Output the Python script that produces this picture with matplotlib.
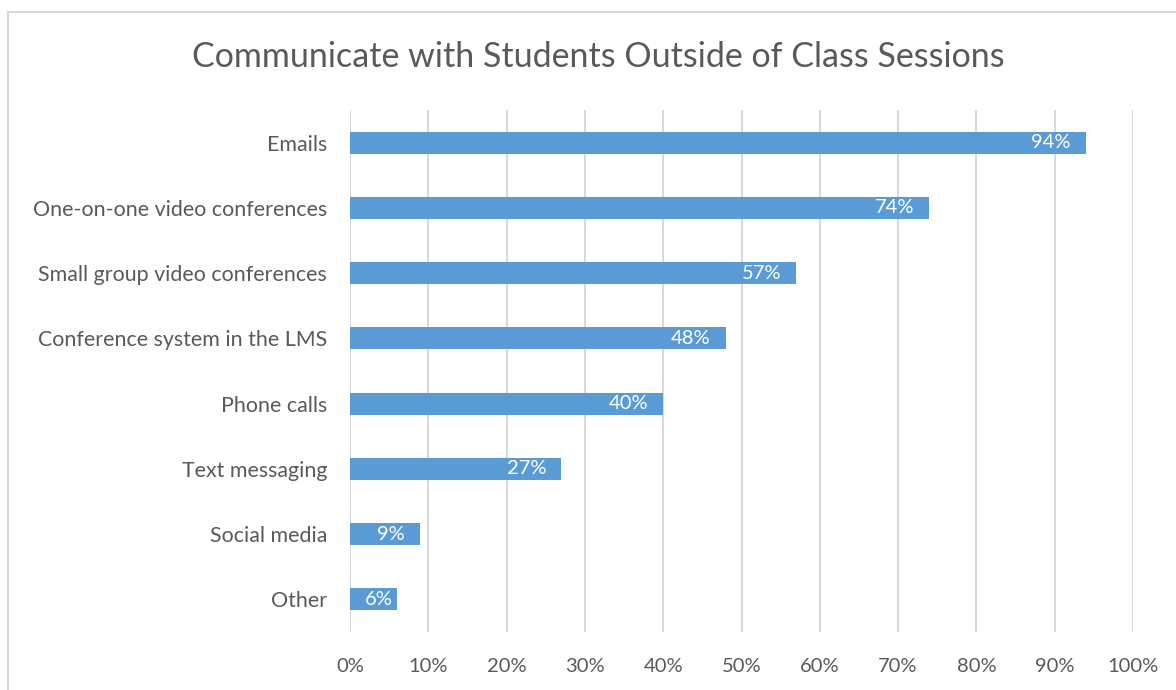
import matplotlib
matplotlib.use("Agg")
import matplotlib.pyplot as plt
from matplotlib.patches import Rectangle
from matplotlib.ticker import FuncFormatter, MultipleLocator

categories = ["Emails", "One-on-one video conferences", "Small group video conferences",
              "Conference system in the LMS", "Phone calls", "Text messaging",
              "Social media", "Other"]
values = [94, 74, 57, 48, 40, 27, 9, 6]
title = "Communicate with Students Outside of Class Sessions"

plt.rcParams['font.family'] = ['Lato', 'DejaVu Sans']
TXT = "#595959"
BAR = "#5B9BD5"
GRID = "#D9D9D9"

fig = plt.figure(figsize=(11.76, 6.9), dpi=100)
ax = fig.add_axes([350/1176, 1-632/690, (1133-350)/1176, (632-110)/690])

ypos = list(range(len(categories)))
ax.barh(ypos, values, height=0.34, color=BAR, zorder=3)
ax.set_ylim(len(categories) - 0.5, -0.5)
ax.set_xlim(0, 100)
ax.set_yticks(ypos)
ax.set_yticklabels(categories, fontsize=15.4, color=TXT)
ax.xaxis.set_major_locator(MultipleLocator(10))
ax.xaxis.set_major_formatter(FuncFormatter(lambda v, p: f"{v:.0f}%"))
ax.tick_params(axis='x', labelsize=14.5, colors=TXT, length=0, pad=19)
ax.tick_params(axis='y', length=0, pad=16.5)
ax.grid(axis='x', color=GRID, linewidth=1.5, zorder=0)
for s in ax.spines.values():
    s.set_visible(False)

for y, v in zip(ypos, values):
    if v >= 8:
        ax.annotate(f"{v}%", xy=(v, y), xytext=(-11, 0), textcoords='offset points',
                    ha='right', va='center', color='white', fontsize=14.5, zorder=4)
    else:
        ax.annotate(f"{v}%", xy=(0, y), xytext=(11, 0), textcoords='offset points',
                    ha='left', va='center', color='white', fontsize=14.5, zorder=4)

fig.text(598/1176, 1 - 57/690, title, ha='center', va='center',
         fontsize=24.5, color=TXT)

fig.patches.append(Rectangle((8/1176, -0.1), 1.2, 1 - 12/690 + 0.1, transform=fig.transFigure,
                             fill=False, edgecolor="#D9D9D9", linewidth=1.5))

fig.savefig("out.png", dpi=100)
